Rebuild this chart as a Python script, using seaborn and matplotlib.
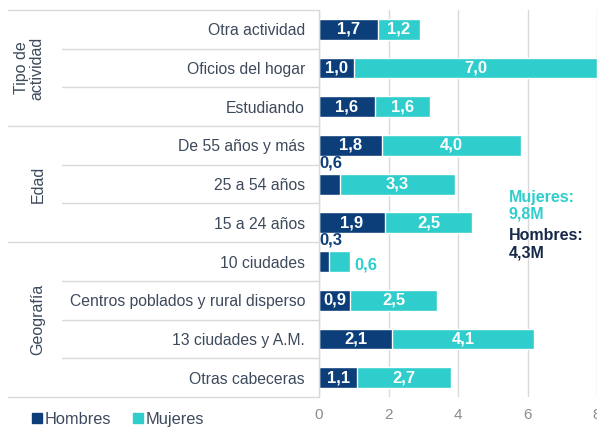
import pandas as pd
import matplotlib
matplotlib.use("Agg")
import matplotlib.pyplot as plt
import matplotlib.transforms as mtransforms
from matplotlib.lines import Line2D
from matplotlib.patches import Patch
import seaborn as sns

# datos (millones de personas)
categorias = ["Otra actividad", "Oficios del hogar", "Estudiando",
              "De 55 años y más", "25 a 54 años", "15 a 24 años",
              "10 ciudades", "Centros poblados y rural disperso",
              "13 ciudades y A.M.", "Otras cabeceras"]
hombres = [1.7, 1.0, 1.6, 1.8, 0.6, 1.9, 0.3, 0.9, 2.1, 1.1]
mujeres = [1.2, 7.0, 1.6, 4.0, 3.3, 2.5, 0.6, 2.5, 4.1, 2.7]
grupos = ["Tipo de\nactividad", "Edad", "Geografía"]
grupo_filas = [(0, 2), (3, 5), (6, 9)]
totales_txt = ["Mujeres:\n9,8M", "Hombres:\n4,3M"]
xticks = [0, 2, 4, 6, 8]

C_HOM = "#0c3e7a"
C_MUJ = "#2fcdcc"
C_TXT = "#3d4a5c"
C_GRID = "#d9d9d9"

df = pd.DataFrame({"categoria": categorias, "Hombres": hombres, "Mujeres": mujeres})
df["Total"] = df["Hombres"] + df["Mujeres"]

sns.set_theme(style="white")
plt.rcParams["font.family"] = ["Liberation Sans", "DejaVu Sans"]

W, H = 597, 428
fig = plt.figure(figsize=(W / 100, H / 100), dpi=100)
ax_left = 319 / W
ax = fig.add_axes([ax_left, 1 - 397 / H, 1 - ax_left, (397 - 10) / H])

# barras apiladas: total (mujeres) detras, hombres delante
sns.barplot(data=df, x="Total", y="categoria", color=C_MUJ, saturation=1,
            width=0.54, errorbar=None, ax=ax)
sns.barplot(data=df, x="Hombres", y="categoria", color=C_HOM, saturation=1,
            width=0.54, errorbar=None, ax=ax)

def fmt(v):
    return f"{v:.1f}".replace(".", ",")

for i, (h, m) in enumerate(zip(hombres, mujeres)):
    if h >= 0.8:
        ax.text(h / 2, i, fmt(h), color="white", fontsize=12, fontweight="bold",
                ha="center", va="center")
    else:
        ax.text(0.0, i - 0.55, fmt(h), color=C_HOM, fontsize=12, fontweight="bold",
                ha="left", va="center")
    if m >= 0.8:
        ax.text(h + m / 2, i, fmt(m), color="white", fontsize=12, fontweight="bold",
                ha="center", va="center")
    else:
        ax.text(h + m + 0.12, i + 0.08, fmt(m), color=C_MUJ, fontsize=12,
                fontweight="bold", ha="left", va="center")

# totales a la derecha
ax.text(5.45, 4.55, totales_txt[0], color=C_MUJ, fontsize=11.5, fontweight="bold",
        ha="left", va="center", linespacing=1.15)
ax.text(5.45, 5.55, totales_txt[1], color="#16284a", fontsize=11.5, fontweight="bold",
        ha="left", va="center", linespacing=1.15)

ax.set_xlim(0, 8)
ax.set_ylim(9.5, -0.5)
ax.set_xticks(xticks)
ax.set_xlabel("")
ax.set_ylabel("")
ax.xaxis.grid(True, color=C_GRID, lw=1)
ax.set_axisbelow(True)
ax.tick_params(axis="x", length=0, colors="#8c8c8c", labelsize=11, pad=8)
ax.tick_params(axis="y", length=0, colors=C_TXT, labelsize=11.3, pad=10)
for s in ["top", "right", "bottom"]:
    ax.spines[s].set_visible(False)
ax.spines["left"].set_color(C_GRID)
ax.spines["left"].set_linewidth(1)

# lineas separadoras de la tabla de categorias
trans = mtransforms.blended_transform_factory(fig.transFigure, ax.transData)
bordes_grupo = [-0.5] + [b + 0.5 for _, b in grupo_filas]
for b in [k + 0.5 for k in range(-1, 10)]:
    x0 = 8 / W if b in bordes_grupo else 62 / W
    fig.add_artist(Line2D([x0, ax_left], [b, b], transform=trans,
                          color=C_GRID, lw=1))

for nombre, (a, b) in zip(grupos, grupo_filas):
    xg = 29 / W if "\n" in nombre else 38 / W
    fig.text(xg, (a + b) / 2, nombre, transform=trans, rotation=90,
             ha="center", va="center", multialignment="center",
             color=C_TXT, fontsize=11.5, linespacing=1.0)

handles = [Patch(color=C_HOM, label="Hombres"), Patch(color=C_MUJ, label="Mujeres")]
leg = fig.legend(handles=handles, loc="lower left", bbox_to_anchor=(17 / W, -0.032),
                 ncol=2, frameon=False, handlelength=0.6, handleheight=0.6,
                 handletextpad=0.2, columnspacing=1.3, fontsize=11.8)
for t in leg.get_texts():
    t.set_color(C_TXT)

fig.savefig("out.png", dpi=100)
